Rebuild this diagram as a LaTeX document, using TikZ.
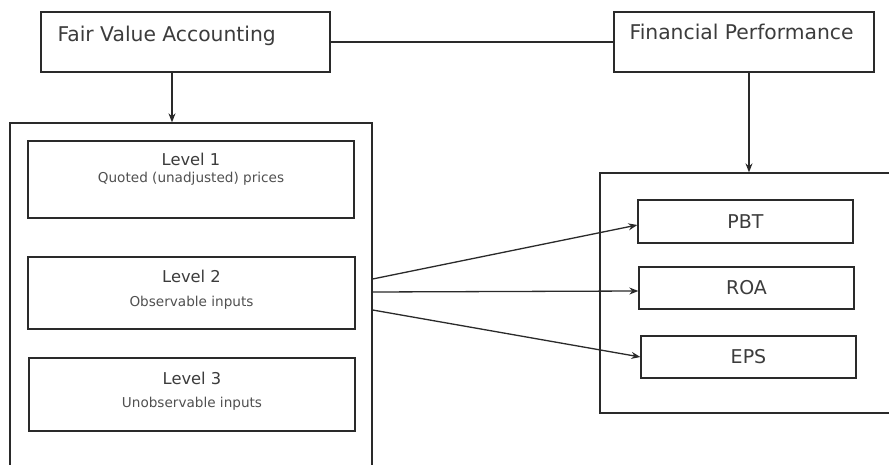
\documentclass[tikz,border=0pt]{standalone}
\usepackage{fontspec}
\setmainfont{DejaVu Sans}
\usetikzlibrary{arrows.meta}
\definecolor{ink}{HTML}{2A2A2A}
\definecolor{txt}{HTML}{3C3C3C}
\definecolor{subtxt}{HTML}{505050}
\begin{document}
\begin{tikzpicture}[x=1pt,y=1pt,
  box/.style={draw=ink, line width=1.3pt, rectangle, inner sep=0pt},
  conn/.style={draw=ink, line width=1.3pt},
  arr/.style={conn, -{Stealth[length=9pt,width=7pt]}},
  titlefont/.style={font=\fontsize{20.3}{23}\selectfont, text=txt},
  levfont/.style={font=\fontsize{16.3}{19}\selectfont, text=txt},
  subfont/.style={font=\fontsize{13.6}{16}\selectfont, text=subtxt},
  kpifont/.style={font=\fontsize{19}{22}\selectfont, text=txt}
]
\useasboundingbox[fill=white] (0,0) rectangle (889,464);

% top boxes
\node[box, minimum width=289pt, minimum height=60pt,
  label={[titlefont, anchor=base west, inner sep=0pt, xshift=17pt, yshift=-30pt]north west:Fair Value Accounting}]
  (FVA) at (185.5,422) {};
\node[box, minimum width=260pt, minimum height=60pt,
  label={[titlefont, anchor=base west, inner sep=0pt, xshift=16pt, yshift=-28pt]north west:Financial Performance}]
  (FP) at (744,422) {};

% containers
\node[box, minimum width=362pt, minimum height=347pt] (LC) at (191,167.5) {};
\node[box, minimum width=300pt, minimum height=240pt] (RC) at (750,171) {};

% level boxes
\node[box, minimum width=326pt, minimum height=77pt,
  label={[levfont, anchor=base, inner sep=0pt, yshift=-25pt]north:Level 1},
  label={[subfont, anchor=base, inner sep=0pt, yshift=-42pt]north:Quoted (unadjusted) prices}]
  (L1) at (191,284.5) {};
\node[box, minimum width=327pt, minimum height=72pt,
  label={[levfont, anchor=base, inner sep=0pt, yshift=-26pt]north:Level 2},
  label={[subfont, anchor=base, inner sep=0pt, yshift=-50pt]north:Observable inputs}]
  (L2) at (191.5,171) {};
\node[box, minimum width=326pt, minimum height=73pt,
  label={[levfont, anchor=base, inner sep=0pt, yshift=-27pt]north:Level 3},
  label={[subfont, anchor=base, inner sep=0pt, yshift=-50pt]north:Unobservable inputs}]
  (L3) at (192,69.5) {};

% KPI boxes
\node[box, kpifont, minimum width=215pt, minimum height=43pt] (PBT) at (745.5,242.5) {PBT};
\node[box, kpifont, minimum width=215pt, minimum height=42pt] (ROA) at (746.5,176) {ROA};
\node[box, kpifont, minimum width=215pt, minimum height=42pt] (EPS) at (748.5,107) {EPS};

% connectors
\draw[conn] (FVA.east) -- (FP.west);
\draw[arr] ([xshift=-13.5pt]FVA.south) -- ([xshift=-13.5pt]FVA.south |- LC.north);
\draw[arr] ([xshift=5pt]FP.south) -- ([xshift=5pt]FP.south |- RC.north);
\draw[arr] ([yshift=17.5pt]LC.east) -- ([yshift=-3.5pt]PBT.west);
\draw[arr] ([yshift=4.5pt]LC.east) -- ([yshift=-3pt]ROA.west);
\draw[arr] ([yshift=-13.5pt]LC.east) -- (EPS.west);
\end{tikzpicture}
\end{document}
